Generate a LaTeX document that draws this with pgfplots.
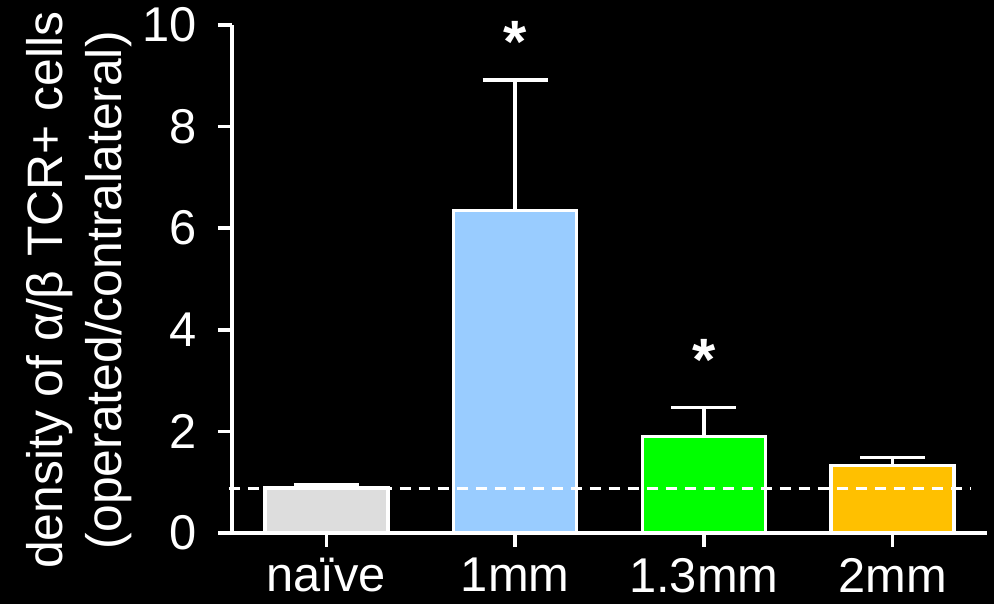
\documentclass[border=0pt]{standalone}
\usepackage{fontspec}
\setmainfont{Liberation Sans}
\usepackage{pgfplots}
\pgfplotsset{compat=1.18}
\definecolor{cnaive}{HTML}{DDDDDD}
\definecolor{cone}{HTML}{99CCFF}
\definecolor{cthirteen}{HTML}{00FF00}
\definecolor{ctwo}{HTML}{FFC000}
\begin{document}
\begin{tikzpicture}[x=1bp,y=1bp]
\fill[black] (-232,-71) rectangle (762,533);
\begin{axis}[
  at={(0,0)}, anchor=south west,
  scale only axis, width=755bp, height=508bp,
  xmin=-0.5, xmax=3.5, ymin=0, ymax=10,
  axis x line*=bottom, axis y line*=left,
  axis line style={white, line width=3.7bp, -},
  ytick={0,2,4,6,8,10},
  xtick={0,1,2,3},
  xticklabels={naïve,1mm,1.3mm,2mm},
  tick align=outside,
  major tick length=14bp,
  tick style={white, line width=3.7bp},
  minor tick num=0,
  /pgf/number format/assume math mode=true,
  ticklabel style={white, font=\fontsize{49}{59}\selectfont},
  yticklabel style={xshift=-18bp},
  xticklabel style={yshift=-9bp, inner sep=2bp},
  ylabel={density of α/β TCR+ cells\\(operated/contralateral)},
  ylabel style={white, font=\fontsize{50}{59}\selectfont, align=center,
    at={(axis description cs:-0.1325,0.478)}, anchor=south, inner sep=0pt},
  ybar, bar width=123bp,
  clip=false,
  error bars/error bar style={white, line width=3.5bp},
  error bars/error mark options={white, line width=3.5bp, mark size=32.5bp, rotate=90},
]
\addplot[bar shift=0pt, fill=cnaive, draw=white, line width=3.5bp,
  error bars/.cd, y dir=plus, y explicit]
  coordinates {(0,0.89) +- (0,0.06)};
\addplot[bar shift=0pt, fill=cone, draw=white, line width=3.5bp,
  error bars/.cd, y dir=plus, y explicit]
  coordinates {(1,6.35) +- (0,2.57)};
\addplot[bar shift=0pt, fill=cthirteen, draw=white, line width=3.5bp,
  error bars/.cd, y dir=plus, y explicit]
  coordinates {(2,1.90) +- (0,0.57)};
\addplot[bar shift=0pt, fill=ctwo, draw=white, line width=3.5bp,
  error bars/.cd, y dir=plus, y explicit]
  coordinates {(3,1.325) +- (0,0.165)};
\addplot[sharp plot, white, line width=3bp, dash pattern=on 11bp off 8bp]
  coordinates {(-0.516,0.88) (3.41,0.88)};
\node[white, font=\fontsize{60}{60}\bfseries\selectfont, anchor=base, inner sep=0pt]
  at (axis cs:1,9.27) {*};
\node[white, font=\fontsize{60}{60}\bfseries\selectfont, anchor=base, inner sep=0pt]
  at (axis cs:2,3.0) {*};
\end{axis}
\pgfresetboundingbox
\useasboundingbox (-232,-71) rectangle (762,533);
\end{tikzpicture}
\end{document}
